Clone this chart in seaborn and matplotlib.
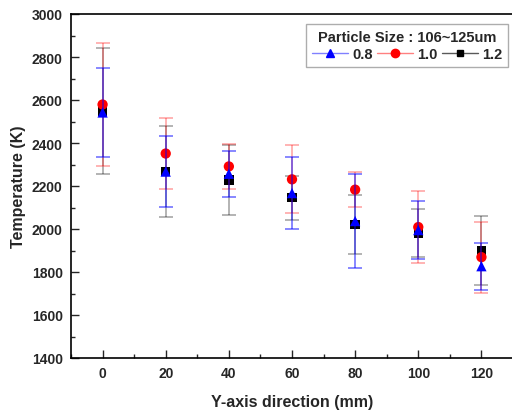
import matplotlib
matplotlib.use("Agg")
import matplotlib.pyplot as plt
from matplotlib.lines import Line2D
from matplotlib.ticker import MultipleLocator
import seaborn as sns
import pandas as pd

positions = [0, 20, 40, 60, 80, 100, 120]
series_labels = ["0.8", "1.0", "1.2"]
temp_08 = [2542, 2267, 2257, 2167, 2037, 1995, 1827]
err_08 = [205, 164, 106, 167, 217, 134, 110]
temp_10 = [2579, 2351, 2291, 2231, 2183, 2009, 1869]
err_10 = [285, 164, 105, 158, 82, 166, 165]
temp_12 = [2549, 2267, 2228, 2145, 2021, 1982, 1900]
err_12 = [295, 210, 165, 102, 138, 112, 160]

sns.set_style("ticks")
plt.rcParams["font.family"] = ["Liberation Sans", "DejaVu Sans"]
plt.rcParams["font.weight"] = "bold"

fig = plt.figure(figsize=(5.12, 4.14), dpi=100)
ax = fig.add_axes([71 / 512, 55 / 414, 442 / 512, 344 / 414])

styles = {
    "1.2": dict(color="black", marker="s", ecolor=(0, 0, 0, 0.35), z=2, size=45),
    "1.0": dict(color="red", marker="o", ecolor=(1, 0, 0, 0.35), z=3, size=55),
    "0.8": dict(color="blue", marker="^", ecolor=(0, 0, 1, 0.55), z=4, size=55),
}
data = {"0.8": (temp_08, err_08), "1.0": (temp_10, err_10), "1.2": (temp_12, err_12)}

for lab in ["1.2", "1.0", "0.8"]:
    vals, errs = data[lab]
    st = styles[lab]
    ax.errorbar(positions, vals, yerr=errs, fmt="none", ecolor=st["ecolor"],
                elinewidth=1.2, capsize=5, capthick=1.2, zorder=st["z"])
    df = pd.DataFrame({"pos": positions, "temp": vals})
    sns.scatterplot(data=df, x="pos", y="temp", ax=ax, color=st["color"],
                    marker=st["marker"], s=st["size"], edgecolor="none",
                    zorder=st["z"] + 0.5, legend=False)

ax.set_xlim(-10, 130)
ax.set_ylim(1400, 3000)
ax.xaxis.set_major_locator(MultipleLocator(20))
ax.xaxis.set_minor_locator(MultipleLocator(10))
ax.yaxis.set_major_locator(MultipleLocator(200))
ax.yaxis.set_minor_locator(MultipleLocator(100))
ax.tick_params(which="both", direction="in", top=False, right=False)
ax.tick_params(which="major", length=6, width=1, labelsize=10, pad=6)
ax.tick_params(which="minor", length=3, width=1)
for lbl in ax.get_xticklabels() + ax.get_yticklabels():
    lbl.set_fontweight("bold")
for sp in ax.spines.values():
    sp.set_linewidth(1.2)
    sp.set_color("black")

ax.set_xlabel("Y-axis direction (mm)", fontsize=11.5, fontweight="bold", labelpad=10)
ax.set_ylabel("Temperature (K)", fontsize=11.5, fontweight="bold", labelpad=4)

handles = [
    Line2D([], [], color=(0.5, 0.5, 1.0), lw=1, marker="^", markerfacecolor="blue",
           markeredgecolor="blue", markersize=6),
    Line2D([], [], color=(1.0, 0.5, 0.5), lw=1, marker="o", markerfacecolor="red",
           markeredgecolor="red", markersize=6),
    Line2D([], [], color=(0.35, 0.35, 0.35), lw=1, marker="s", markerfacecolor="black",
           markeredgecolor="black", markersize=5),
]
leg = ax.legend(handles, series_labels, title="Particle Size : 106~125um", ncol=3,
                loc="upper right", bbox_to_anchor=(0.989, 0.971), fontsize=10.5,
                title_fontproperties={"weight": "bold", "size": 10.5},
                frameon=True, fancybox=False, handlelength=2.45, handletextpad=0.3,
                columnspacing=0.3, borderpad=0.4, labelspacing=0.2, borderaxespad=0)
leg.get_frame().set_edgecolor("#999999")
leg.get_frame().set_linewidth(1)
for t in leg.get_texts():
    t.set_fontweight("bold")

fig.savefig("out.png", dpi=100)
